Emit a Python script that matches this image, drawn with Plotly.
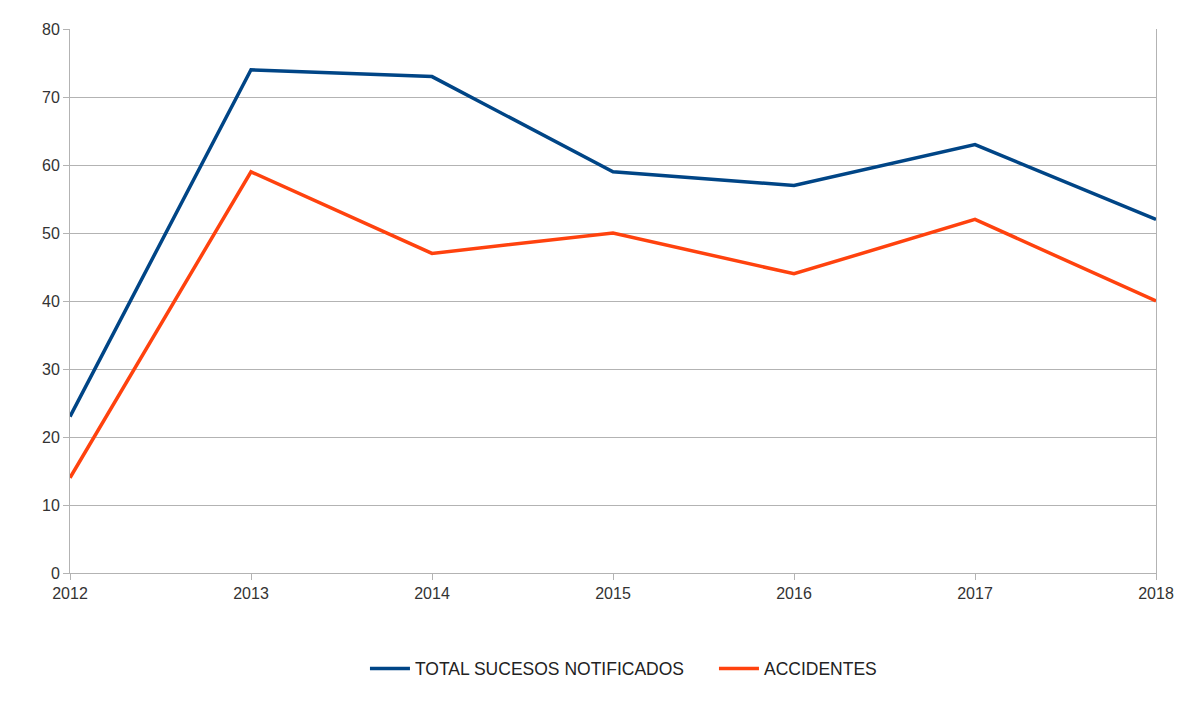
import plotly.graph_objects as go

years = [2012, 2013, 2014, 2015, 2016, 2017, 2018]
total_sucesos = [23, 74, 73, 59, 57, 63, 52]
accidentes = [14, 59, 47, 50, 44, 52, 40]

fig = go.Figure()
fig.add_trace(go.Scatter(x=years, y=total_sucesos, mode="lines",
                         name="TOTAL SUCESOS NOTIFICADOS",
                         line=dict(color="#004586", width=3.5)))
fig.add_trace(go.Scatter(x=years, y=accidentes, mode="lines",
                         name="ACCIDENTES",
                         line=dict(color="#ff420e", width=3.5)))

axis_font = dict(family="Liberation Sans, Arial, sans-serif", size=16, color="#333333")
fig.update_layout(
    width=1200, height=705,
    margin=dict(l=62, r=52, t=21, b=140, autoexpand=False),
    paper_bgcolor="white", plot_bgcolor="white",
    font=axis_font,
    showlegend=True,
    legend=dict(orientation="h", x=0.2716, xanchor="left", y=-0.176, yanchor="middle",
                font=dict(family="Liberation Sans, Arial, sans-serif", size=17.5, color="#222222"),
                itemwidth=40, entrywidth=294, entrywidthmode="pixels"),
    xaxis=dict(range=[2012, 2018], tickmode="array", tickvals=years,
               ticktext=[str(y) for y in years],
               showgrid=False, showline=True, linecolor="#b3b3b3", linewidth=1,
               ticks="outside", ticklen=6, tickcolor="#b3b3b3", zeroline=False,
               tickfont=axis_font),
    yaxis=dict(range=[0, 80], tickmode="linear", dtick=10, showgrid=True,
               gridcolor="#b3b3b3", gridwidth=1, showline=True, mirror=True,
               linecolor="#b3b3b3", linewidth=1, ticks="outside", ticklen=6,
               tickcolor="#b3b3b3", zeroline=False, tickfont=axis_font),
)
fig.write_html("out.html")
